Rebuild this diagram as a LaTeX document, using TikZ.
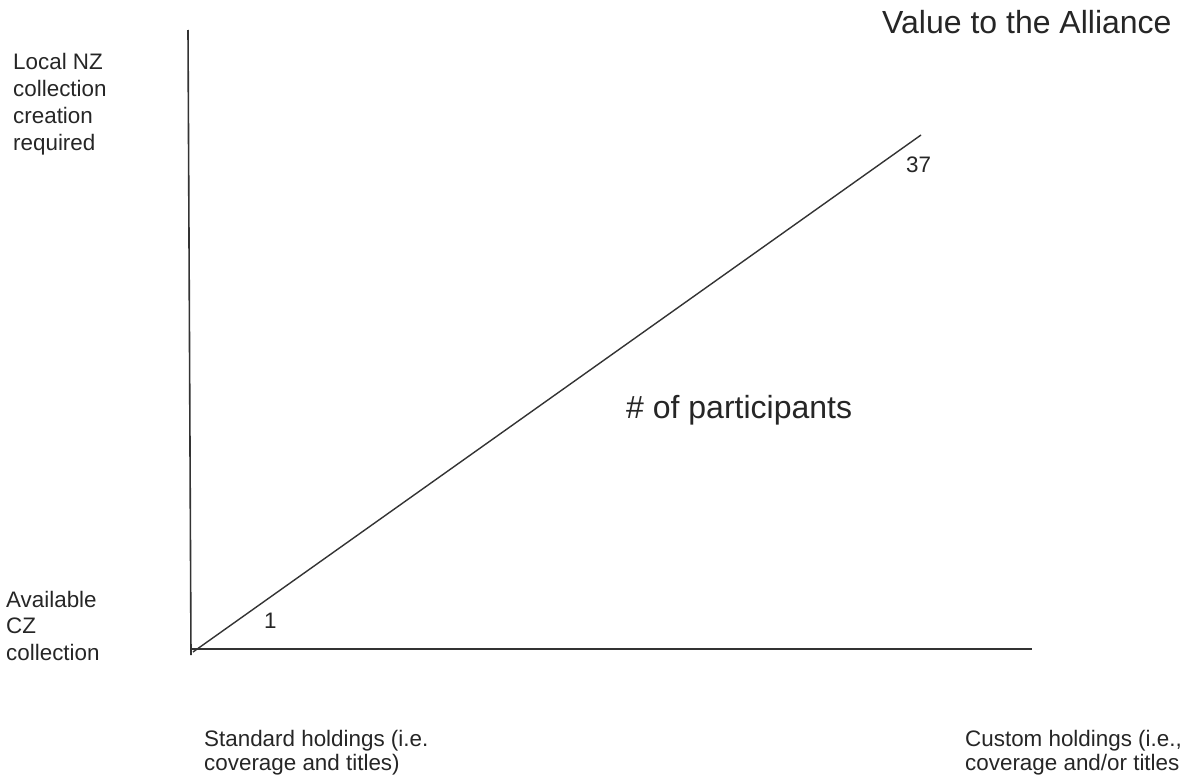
\documentclass[tikz,border=0pt]{standalone}
\usepackage{fontspec}
\setmainfont{Liberation Sans}
\begin{document}
\begin{tikzpicture}[x=1pt,y=-1pt,
  axisline/.style={draw=black!80,line width=1.6pt},
  small/.style={font=\fontsize{22.4}{27}\selectfont,text=black!85,inner sep=0pt,anchor=base west},
  big/.style={font=\fontsize{32}{38}\selectfont,text=black!85,inner sep=0pt,anchor=base west}]
\useasboundingbox[fill=white] (0,0) rectangle (1189,779);
\coordinate (ytop) at (188,30);
\coordinate (ybot) at (191,655);
\coordinate (xleft) at (190,649);
\coordinate (xright) at (1032,649);
\coordinate (dstart) at (193,652);
\coordinate (dend) at (921,135);
\draw[axisline] (ytop) -- (ybot);
\draw[axisline] (xleft) -- (xright);
\draw[axisline,line width=1.4pt] (dstart) -- (dend);
\node[big] (title) at (882,33) {Value to the Alliance};
\node[big] (part) at (626,418) {\# of participants};
\node[small] (n37) at (906,172) {37};
\node[small] (n1) at (264,628) {1};
\node[small] (loc1) at (13,69) {Local NZ};
\node[small] (loc2) at (13,96) {collection};
\node[small] (loc3) at (13,123) {creation};
\node[small] (loc4) at (13,150) {required};
\node[small] (av1) at (6,607) {Available};
\node[small] (av2) at (6,633) {CZ};
\node[small] (av3) at (6,660) {collection};
\node[small] (st1) at (204,746) {Standard holdings (i.e.};
\node[small] (st2) at (204,770) {coverage and titles)};
\node[small] (cu1) at (965,746) {Custom holdings (i.e.,};
\node[small] (cu2) at (965,770) {coverage and/or titles};
\end{tikzpicture}
\end{document}
